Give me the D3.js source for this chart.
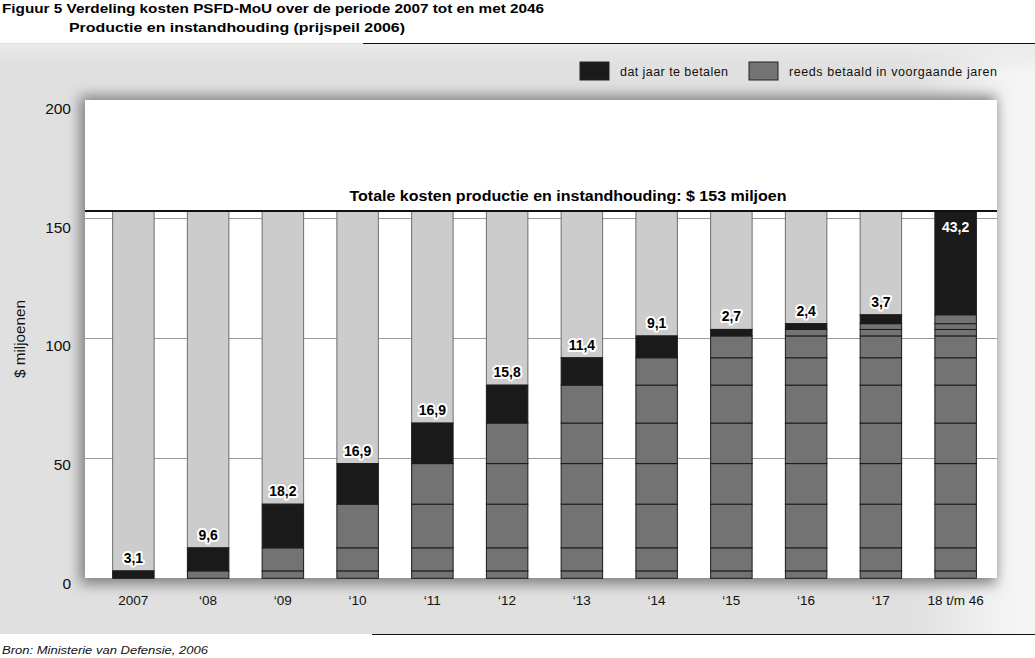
<!DOCTYPE html>
<html>
<head>
<meta charset="utf-8">
<script src="https://cdn.jsdelivr.net/npm/d3@7"></script>
<style>
  html, body { margin: 0; padding: 0; background: #ffffff; }
  svg { display: block; font-family: "Liberation Sans", Arial, Helvetica, sans-serif; }
</style>
</head>
<body>
<svg id="chart" width="1035" height="658"></svg>
<script>
// ---- data ----
const categories = ["2007", "\u201808", "\u201809", "\u201810", "\u201811", "\u201812", "\u201813", "\u201814", "\u201815", "\u201816", "\u201817", "18 t/m 46"];
const yearlyCosts = [3.1, 9.6, 18.2, 16.9, 16.9, 15.8, 11.4, 9.1, 2.7, 2.4, 3.7, 43.2];
const totalCost = 153;
const yTicks = [0, 50, 100, 150, 200];
const gridValues = [50, 100, 150];
const titleLine1 = "Figuur 5 Verdeling kosten PSFD-MoU over de periode 2007 tot en met 2046";
const titleLine2 = "Productie en instandhouding (prijspeil 2006)";
const totalLabel = "Totale kosten productie en instandhouding: $ 153 miljoen";
const legendItems = ["dat jaar te betalen", "reeds betaald in voorgaande jaren"];
const yAxisTitle = "$ miljoenen";
const sourceText = "Bron: Ministerie van Defensie, 2006";

// ---- layout ----
const W = 1035, H = 658;
const plot = { x0: 85, x1: 997, y0: 100, y1: 578 };
const C = { black: "#1a1a1a", gray: "#737373", light: "#cccccc" };

const svg = d3.select("#chart");
const defs = svg.append("defs");

// panel gradient
const pg = defs.append("linearGradient").attr("id", "panelGrad").attr("x1", 0).attr("x2", 1).attr("y1", 0).attr("y2", 0);
pg.append("stop").attr("offset", "0%").attr("stop-color", "#e0e0e0");
pg.append("stop").attr("offset", "88%").attr("stop-color", "#e0e0e0");
pg.append("stop").attr("offset", "97%").attr("stop-color", "#f3f3f3");
pg.append("stop").attr("offset", "100%").attr("stop-color", "#f6f6f6");

const sh = defs.append("filter").attr("id", "shadow").attr("x", "-10%").attr("y", "-10%").attr("width", "120%").attr("height", "120%");
sh.append("feGaussianBlur").attr("stdDeviation", 7);

// panel
svg.append("rect").attr("x", 0).attr("y", 43).attr("width", W).attr("height", 591).attr("fill", "url(#panelGrad)");
const tg = defs.append("linearGradient").attr("id", "topGrad").attr("x1", 0).attr("x2", 0).attr("y1", 0).attr("y2", 1);
tg.append("stop").attr("offset", "0%").attr("stop-color", "#ececec").attr("stop-opacity", 0.9);
tg.append("stop").attr("offset", "100%").attr("stop-color", "#e0e0e0").attr("stop-opacity", 0);
svg.append("rect").attr("x", 0).attr("y", 44).attr("width", W).attr("height", 30).attr("fill", "url(#topGrad)");

// shadow of plot
svg.append("rect").attr("x", plot.x0 - 5).attr("y", plot.y0 - 4)
  .attr("width", plot.x1 - plot.x0 + 4).attr("height", plot.y1 - plot.y0 + 10)
  .attr("fill", "#7e7e7e").attr("filter", "url(#shadow)");

// plot background
svg.append("rect").attr("x", plot.x0).attr("y", plot.y0)
  .attr("width", plot.x1 - plot.x0).attr("height", plot.y1 - plot.y0).attr("fill", "#ffffff");

// lines
svg.append("line").attr("x1", 363).attr("x2", W).attr("y1", 43.5).attr("y2", 43.5).attr("stroke", "#111").attr("stroke-width", 1.2);
svg.append("line").attr("x1", 372).attr("x2", W).attr("y1", 634.5).attr("y2", 634.5).attr("stroke", "#111").attr("stroke-width", 1.2);

// scales
const y = d3.scaleLinear().domain([0, 200]).range([578.3, 98.3]);
const x = d3.scaleBand().domain(categories).range([96, 993]).paddingInner(0.445).paddingOuter(0.2225);

// grid
svg.append("g").selectAll("line").data(gridValues).join("line")
  .attr("x1", plot.x0).attr("x2", plot.x1)
  .attr("y1", d => Math.round(y(d)) + 0.5).attr("y2", d => Math.round(y(d)) + 0.5)
  .attr("stroke", "#9a9a9a").attr("stroke-width", 1);

// cumulative
const cum = [];
yearlyCosts.reduce((a, v, i) => { cum[i] = a + v; return cum[i]; }, 0);

// bars
const bars = svg.append("g");
categories.forEach((cat, i) => {
  const bx = x(cat), bw = x.bandwidth();
  const g = bars.append("g");
  if (totalCost - cum[i] > 0.01) {
    g.append("rect").attr("x", bx).attr("width", bw)
      .attr("y", y(totalCost)).attr("height", y(cum[i]) - y(totalCost))
      .attr("fill", C.light).attr("stroke", "#6e6e6e").attr("stroke-width", 1);
  }
  for (let j = 0; j < i; j++) {
    const lo = j === 0 ? 0 : cum[j - 1];
    g.append("rect").attr("x", bx).attr("width", bw)
      .attr("y", y(cum[j])).attr("height", y(lo) - y(cum[j]))
      .attr("fill", C.gray).attr("stroke", "#1a1a1a").attr("stroke-width", 1);
  }
  const lo = i === 0 ? 0 : cum[i - 1];
  g.append("rect").attr("x", bx).attr("width", bw)
    .attr("y", y(cum[i])).attr("height", y(lo) - y(cum[i]))
    .attr("fill", C.black).attr("stroke", "#1a1a1a").attr("stroke-width", 1);
});

// total line
svg.append("line").attr("x1", plot.x0).attr("x2", plot.x1)
  .attr("y1", y(totalCost)).attr("y2", y(totalCost))
  .attr("stroke", "#111").attr("stroke-width", 2);

// value labels
const fmt = v => d3.format(".1f")(v).replace(".", ",");
categories.forEach((cat, i) => {
  const cx = x(cat) + x.bandwidth() / 2;
  const last = Math.abs(cum[i] - totalCost) < 0.01;
  const t = svg.append("text")
    .attr("x", cx)
    .attr("y", last ? y(totalCost) + 21 : y(cum[i]) - 8)
    .attr("text-anchor", "middle")
    .attr("font-size", 14).attr("font-weight", "bold")
    .text(fmt(yearlyCosts[i]));
  if (last) {
    t.attr("fill", "#ffffff");
  } else {
    t.attr("fill", "#000").attr("stroke", "#ffffff").attr("stroke-width", 4)
      .attr("stroke-linejoin", "round").attr("paint-order", "stroke");
  }
});

// total label
svg.append("text").attr("x", 568).attr("y", 201).attr("text-anchor", "middle")
  .attr("font-size", 14.5).attr("font-weight", "bold").attr("fill", "#000")
  .attr("textLength", 437).attr("lengthAdjust", "spacingAndGlyphs")
  .text(totalLabel);

// y tick labels
svg.append("g").selectAll("text").data(yTicks).join("text")
  .attr("x", 71).attr("y", d => y(d) + 10.5 + (d / 200) * 5)
  .attr("text-anchor", "end").attr("font-size", 15.5).attr("fill", "#111")
  .text(d => d);

// y axis title
svg.append("text").attr("transform", "translate(25,339) rotate(-90)")
  .attr("text-anchor", "middle").attr("font-size", 14).attr("fill", "#111")
  .attr("textLength", 78).attr("lengthAdjust", "spacingAndGlyphs")
  .text(yAxisTitle);

// x labels
svg.append("g").selectAll("text").data(categories).join("text")
  .attr("x", d => x(d) + x.bandwidth() / 2).attr("y", 605)
  .attr("text-anchor", "middle").attr("font-size", 13.5).attr("fill", "#111")
  .text(d => d);

// legend
const legendX = [580, 749];
const legendTextX = [620, 789];
const legendW = [108, 208];
const legendFill = [C.black, C.gray];
legendItems.forEach((txt, i) => {
  svg.append("rect").attr("x", legendX[i]).attr("y", 62).attr("width", 29).attr("height", 18)
    .attr("fill", legendFill[i]).attr("stroke", "#222").attr("stroke-width", 1);
  svg.append("text").attr("x", legendTextX[i]).attr("y", 76)
    .attr("font-size", 12.5).attr("fill", "#111")
    .attr("textLength", legendW[i]).attr("lengthAdjust", "spacing")
    .text(txt);
});

// titles
svg.append("text").attr("x", 2).attr("y", 12.5).attr("font-size", 13.5).attr("font-weight", "bold")
  .attr("fill", "#000").attr("textLength", 542).attr("lengthAdjust", "spacingAndGlyphs").text(titleLine1);
svg.append("text").attr("x", 69).attr("y", 31.5).attr("font-size", 13.5).attr("font-weight", "bold")
  .attr("fill", "#000").attr("textLength", 336).attr("lengthAdjust", "spacingAndGlyphs").text(titleLine2);

// source
svg.append("text").attr("x", 2).attr("y", 654).attr("font-size", 11).attr("font-style", "italic")
  .attr("fill", "#111").attr("textLength", 206).attr("lengthAdjust", "spacingAndGlyphs").text(sourceText);
</script>
</body>
</html>
